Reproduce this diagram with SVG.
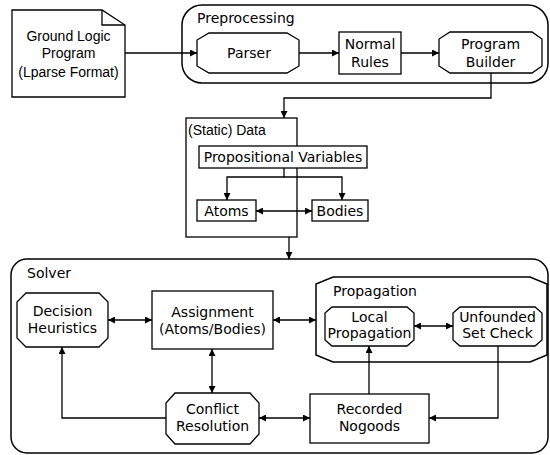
<svg xmlns="http://www.w3.org/2000/svg" width="550" height="455" viewBox="0 0 550 455">
<defs>
<marker id="ah" viewBox="0 0 10 10" refX="10" refY="5" markerWidth="7" markerHeight="7" markerUnits="userSpaceOnUse" orient="auto-start-reverse">
<path d="M0,0 L10,5 L0,10 z" fill="#000"/>
</marker>
<style>
.box{fill:#fff;stroke:#000;stroke-width:1.3}
.cont{fill:#fff;stroke:#000;stroke-width:1.5}
.t{font-family:"DejaVu Sans",sans-serif;font-size:14px;fill:#000}
.a{font-family:"Liberation Sans",Arial,sans-serif;font-size:14px;fill:#000}
.m{text-anchor:middle}
.c{fill:none;stroke:#000;stroke-width:1.3}
.e{marker-end:url(#ah)}
.b{marker-start:url(#ah);marker-end:url(#ah)}
</style>
</defs>
<g id="preprocessing">
<rect class="cont" x="182" y="5" width="366" height="78" rx="20" ry="20"/>
<text class="t" x="197" y="23">Preprocessing</text>
</g>
<g id="solver">
<rect class="cont" x="11" y="259" width="537" height="194" rx="16" ry="16"/>
<text class="t" x="27" y="278">Solver</text>
</g>
<g id="propagation">
<polygon class="cont" points="333,277 530,277 547,284 547,355 530,362 333,362 316,355 316,284"/>
<text class="t" x="333" y="296">Propagation</text>
</g>
<g id="data">
<rect class="box" x="186" y="118" width="111" height="119"/>
<text class="a" x="188" y="135">(Static) Data</text>
</g>
<g id="document">
<path class="box" d="M12,10 L102,10 L125,25 L125,97 L12,97 Z"/>
<path class="c" d="M102,10 L102,25 L125,25"/>
<text class="a m" x="68.5" y="41">Ground Logic</text>
<text class="a m" x="68.5" y="58">Program</text>
<text class="a m" x="68.5" y="77">(Lparse Format)</text>
</g>
<g id="parser">
<polygon class="box" points="209,33 287,33 299,40 299,66 287,73 209,73 197,66 197,40"/>
<text class="t m" x="249" y="58">Parser</text>
</g>
<g id="normal-rules">
<rect class="box" x="339" y="32" width="62" height="42"/>
<text class="t m" x="370" y="49">Normal</text>
<text class="t m" x="370" y="67">Rules</text>
</g>
<g id="program-builder">
<polygon class="box" points="450,32 532,32 542,39 542,66 532,73 450,73 439,66 439,39"/>
<text class="t m" x="490.5" y="49">Program</text>
<text class="t m" x="490.5" y="67">Builder</text>
</g>
<g id="propositional-variables">
<rect class="box" x="199" y="146" width="168" height="22"/>
<text class="t m" x="283" y="162">Propositional Variables</text>
</g>
<g id="atoms">
<rect class="box" x="197" y="200" width="59" height="21"/>
<text class="t m" x="226.5" y="216">Atoms</text>
</g>
<g id="bodies">
<rect class="box" x="312" y="200" width="56" height="21"/>
<text class="t m" x="340" y="216">Bodies</text>
</g>
<g id="decision-heuristics">
<polygon class="box" points="26,293 99,293 108,302 108,338 99,347 26,347 17,338 17,302"/>
<text class="t m" x="62.5" y="316">Decision</text>
<text class="t m" x="62.5" y="333">Heuristics</text>
</g>
<g id="assignment">
<rect class="box" x="152" y="291" width="121" height="58"/>
<text class="t m" x="212.5" y="317">Assignment</text>
<text class="t m" x="212.5" y="334">(Atoms/Bodies)</text>
</g>
<g id="local-propagation">
<polygon class="box" points="332,307 407,307 414,313 414,340 407,346 332,346 325,340 325,313"/>
<text class="t m" x="369.5" y="322">Local</text>
<text class="t m" x="369.5" y="338">Propagation</text>
</g>
<g id="unfounded-set-check">
<polygon class="box" points="460,307 535,307 542,313 542,340 535,346 460,346 453,340 453,313"/>
<text class="t m" x="497.5" y="322">Unfounded</text>
<text class="t m" x="497.5" y="338">Set Check</text>
</g>
<g id="conflict-resolution">
<polygon class="box" points="175,393 250,393 259,403 259,434 250,444 175,444 166,434 166,403"/>
<text class="t m" x="212.5" y="414">Conflict</text>
<text class="t m" x="212.5" y="431">Resolution</text>
</g>
<g id="recorded-nogoods">
<rect class="box" x="310" y="394" width="119" height="49"/>
<text class="t m" x="369.5" y="414">Recorded</text>
<text class="t m" x="369.5" y="431">Nogoods</text>
</g>
<g id="connectors">
<path class="c e" d="M125,53 L197,53"/>
<path class="c e" d="M299,53 L339,53"/>
<path class="c e" d="M401,53 L439,53"/>
<path class="c e" d="M491,73 L491,98 L284,98 L284,118"/>
<path class="c e" d="M284,168 L284,177 L227,177 L227,200"/>
<path class="c e" d="M284,177 L342,177 L342,200"/>
<path class="c b" d="M256,211 L312,211"/>
<path class="c e" d="M289,237 L289,259"/>
<path class="c b" d="M108,320 L152,320"/>
<path class="c b" d="M273,320 L316,320"/>
<path class="c b" d="M414,326 L453,326"/>
<path class="c b" d="M212,349 L212,393"/>
<path class="c b" d="M259,418 L310,418"/>
<path class="c e" d="M166,418 L62,418 L62,347"/>
<path class="c e" d="M369,394 L369,346"/>
<path class="c e" d="M498,346 L498,418 L429,418"/>
</g>
</svg>
